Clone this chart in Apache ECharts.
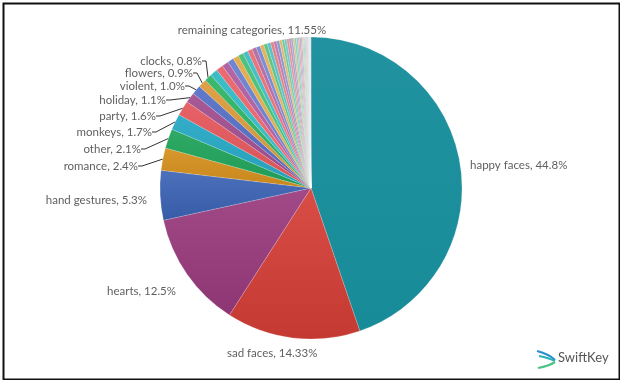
<!DOCTYPE html>
<html><head><meta charset="utf-8">
<script src="https://cdn.jsdelivr.net/npm/echarts@6/dist/echarts.min.js"></script>
<style>html,body{margin:0;padding:0;background:#fff}#c{width:620px;height:380px}</style>
</head><body><div id="c"></div>
<script>
// ---- data ----
const categories = ['happy faces','sad faces','hearts','hand gestures','romance','other','monkeys','party','holiday','violent','flowers','clocks'];
const values = [44.8, 14.33, 12.5, 5.3, 2.4, 2.1, 1.7, 1.6, 1.1, 1.0, 0.9, 0.8];
const labelTexts = ['happy faces, 44.8%','sad faces, 14.33%','hearts, 12.5%','hand gestures, 5.3%','romance, 2.4%','other, 2.1%','monkeys, 1.7%','party, 1.6%','holiday, 1.1%','violent, 1.0%','flowers, 0.9%','clocks, 0.8%'];
const remainingValues = [0.80,0.76,0.71,0.66,0.61,0.57,0.54,0.50,0.47,0.44,
  0.41,0.38,0.36,0.34,0.32,0.30,0.28,0.26,0.25,0.24,
  0.22,0.20,0.19,0.18,0.17,0.16,0.15,0.14,0.13,0.12,
  0.11,0.10,0.09,0.08,0.07,0.06,0.05,0.05,0.04,0.04];
const remainingLabel = 'remaining categories, 11.55%';

// ---- styling ----
const namedColors = ['#198f9d','#d53e35','#9a3a7d','#3c64b6','#d4901e','#22a55c',
                     '#27a9c5','#e4585d','#a24f90','#5670c6','#dc9b3b','#2eb566'];
const cycleBase = ['#3bbcc6','#e96a70','#b063a3','#6b82d0','#e3ab4a','#45c075'];
// label anchor positions [x, y, align]
const labelPos = [
  [470,165,'left'],[227,353,'left'],[176,291,'right'],[147,200,'right'],
  [138,166,'right'],[141,149,'right'],[152,132,'right'],[156,116,'right'],
  [166,100,'right'],[185,86,'right'],[193,73,'right'],[202,61,'right']
];
const showLine = [false,false,false,false,true,true,true,true,true,true,true,true];
const shade = [0.03,0.08,0.08,0.08,0.06,0.06,0.06,0.06,0.06,0.06,0.06,0.06];

function hex(c){c=c.replace('#','');return [parseInt(c.substr(0,2),16),parseInt(c.substr(2,2),16),parseInt(c.substr(4,2),16)];}
function toHex(a){return '#'+a.map(v=>Math.max(0,Math.min(255,Math.round(v))).toString(16).padStart(2,'0')).join('');}
function mix(c1,c2,t){const a=hex(c1),b=hex(c2);return toHex(a.map((v,i)=>v+(b[i]-v)*t));}
function grad(c,s){
  return {type:'linear',x:0,y:0,x2:0,y2:1,colorStops:[
    {offset:0,color:mix(c,'#ffffff',s)},{offset:1,color:mix(c,'#000000',s)}]};
}

const data = [];
categories.forEach((n,i)=>{
  data.push({name:n,value:values[i],
    itemStyle:{color:grad(namedColors[i],shade[i])},
    label:{show:true,formatter:labelTexts[i]},
    labelLine:{show:showLine[i]}});
});
remainingValues.forEach((v,i)=>{
  const t = Math.min(0.9, Math.pow(i/(remainingValues.length-1),1.3)*0.9);
  data.push({name:'r'+i,value:v,
    itemStyle:{color:mix(cycleBase[i%6],'#dcdcdc',t)},
    label:{show:false},labelLine:{show:false}});
});

const chart = echarts.init(document.getElementById('c'),null,{renderer:'canvas'});
chart.setOption({
  animation:false,
  backgroundColor:'#ffffff',
  series:[{
    type:'pie',
    center:[311,188],
    radius:[0,151],
    startAngle:90,
    clockwise:true,
    avoidLabelOverlap:false,
    data:data,
    itemStyle:{borderColor:'rgba(255,255,255,0.35)',borderWidth:0.5},
    label:{position:'outside',color:'#5f5f5f',fontFamily:'Lato',fontSize:11.5},
    labelLine:{lineStyle:{color:'#333',width:1},length:4,length2:4,smooth:false},
    emphasis:{disabled:true},
    labelLayout:function(p){
      const pos = labelPos[p.dataIndex];
      if(!pos) return {};
      return {x:pos[0],y:pos[1],align:pos[2],verticalAlign:'middle'};
    }
  }],
  graphic:[
    {type:'rect',left:1,top:1,shape:{width:616,height:376},style:{fill:'none',stroke:'#111',lineWidth:2}},
    {type:'text',x:252,y:30,style:{text:remainingLabel,fill:'#5f5f5f',font:'11.5px Lato',textAlign:'center',textVerticalAlign:'middle'}},
    {type:'bezierCurve',shape:{x1:537,y1:351,cpx1:549,cpy1:354,x2:555,y2:360},style:{fill:'none',stroke:'#2a8fd0',lineWidth:2.2}},
    {type:'bezierCurve',shape:{x1:539,y1:356,cpx1:549,cpy1:358,x2:555,y2:361},style:{fill:'none',stroke:'#2bb3b8',lineWidth:2.2}},
    {type:'bezierCurve',shape:{x1:538,y1:368,cpx1:549,cpy1:366,x2:555,y2:362},style:{fill:'none',stroke:'#4cc38a',lineWidth:2.2}},
    {type:'text',x:558,y:358,style:{text:'SwiftKey',fill:'#555',font:'13px Lato',textAlign:'left',textVerticalAlign:'middle'}}
  ]
});
</script></body></html>
